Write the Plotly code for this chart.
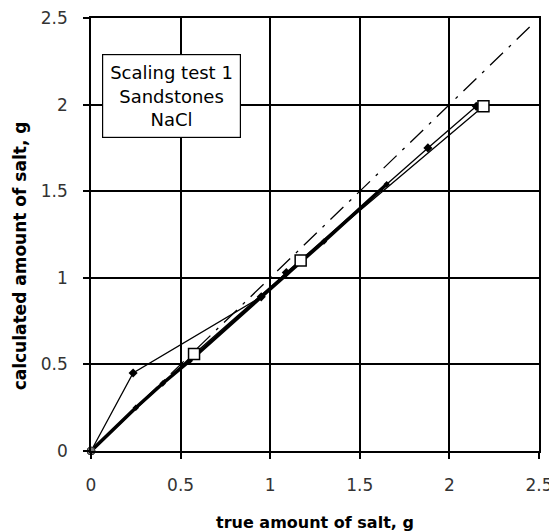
import plotly.graph_objects as go

# 1:1 reference line
ref_x = [0, 2.45]
ref_y = [0, 2.45]

# series A (filled diamonds)
a_x = [0, 0.235, 0.95, 1.09, 1.88, 2.15]
a_y = [0, 0.45, 0.89, 1.03, 1.75, 1.99]

# series B (open squares)
b_x = [0, 0.575, 1.17, 2.19]
b_y = [0, 0.56, 1.10, 1.99]

# series C (heavy line, small markers)
c_x = [0, 0.25, 0.4, 0.55, 0.95, 1.3, 1.65]
c_y = [0, 0.25, 0.39, 0.52, 0.89, 1.21, 1.54]

xticks = [0, 0.5, 1, 1.5, 2, 2.5]
yticks = [0, 0.5, 1, 1.5, 2, 2.5]

tick_font = "'DejaVu Sans', sans-serif"
title_font = "'DejaVu Sans', sans-serif"

fig = go.Figure()

fig.add_trace(go.Scatter(x=ref_x, y=ref_y, mode="lines",
                         line=dict(color="black", width=1.3, dash="18px,8px,3px,8px"),
                         cliponaxis=False, showlegend=False))
fig.add_trace(go.Scatter(x=c_x, y=c_y, mode="lines+markers",
                         line=dict(color="black", width=3.5),
                         marker=dict(symbol="diamond", size=5, color="black"),
                         cliponaxis=False, showlegend=False))
fig.add_trace(go.Scatter(x=a_x, y=a_y, mode="lines+markers",
                         line=dict(color="black", width=1.3),
                         marker=dict(symbol="diamond", size=7, color="black"),
                         cliponaxis=False, showlegend=False))
fig.add_trace(go.Scatter(x=b_x, y=b_y, mode="lines",
                         line=dict(color="black", width=1.3),
                         cliponaxis=False, showlegend=False))
fig.add_trace(go.Scatter(x=b_x[1:], y=b_y[1:], mode="markers",
                         marker=dict(symbol="square", size=11, color="white",
                                     line=dict(width=1.5, color="black")),
                         cliponaxis=False, showlegend=False))
fig.add_trace(go.Scatter(x=b_x[:1], y=b_y[:1], mode="markers",
                         marker=dict(symbol="circle", size=8, color="#777",
                                     line=dict(width=1, color="#333")),
                         cliponaxis=False, showlegend=False))

axis_common = dict(range=[0, 2.5], showgrid=True, gridcolor="black", gridwidth=1.5,
                   zeroline=False, showline=True, linecolor="black", linewidth=1.5,
                   mirror=True, ticks="outside", ticklen=6, tickcolor="black",
                   tickwidth=1.5, tickfont=dict(family=tick_font, size=17, color="#333"),
                   fixedrange=True, automargin=False, ticklabeloverflow="allow")

fig.update_xaxes(**axis_common, tickvals=xticks, ticktext=[f"{t:g}" for t in xticks],
                 ticklabelstandoff=12)
fig.update_yaxes(**axis_common, tickvals=yticks, ticktext=[f"{t:g}" for t in yticks],
                 ticklabelstandoff=12)

fig.add_annotation(xref="paper", yref="paper", x=0.5, y=-0.166,
                   xanchor="center", yanchor="middle",
                   text="<b>true amount of salt, g</b>", showarrow=False,
                   font=dict(family=title_font, size=16, color="black"))
fig.add_annotation(xref="paper", yref="paper", x=-0.158, y=0.45, textangle=-90,
                   xanchor="center", yanchor="middle",
                   text="<b>calculated amount of salt, g</b>", showarrow=False,
                   font=dict(family=title_font, size=17, color="black"))

fig.add_annotation(xref="paper", yref="paper", x=0.18, y=0.82,
                   xanchor="center", yanchor="middle",
                   text="Scaling test 1<br>Sandstones<br>NaCl", showarrow=False,
                   font=dict(family=tick_font, size=18, color="black"),
                   bgcolor="white", bordercolor="black", borderwidth=1.2, borderpad=7,
                   align="center")

# page body has an 8px margin; size the figure so the plot lands where the reference has it
fig.update_layout(width=549, height=523, margin=dict(l=83, r=18, t=10, b=80),
                  plot_bgcolor="white", paper_bgcolor="white")

fig.write_html("out.html")
